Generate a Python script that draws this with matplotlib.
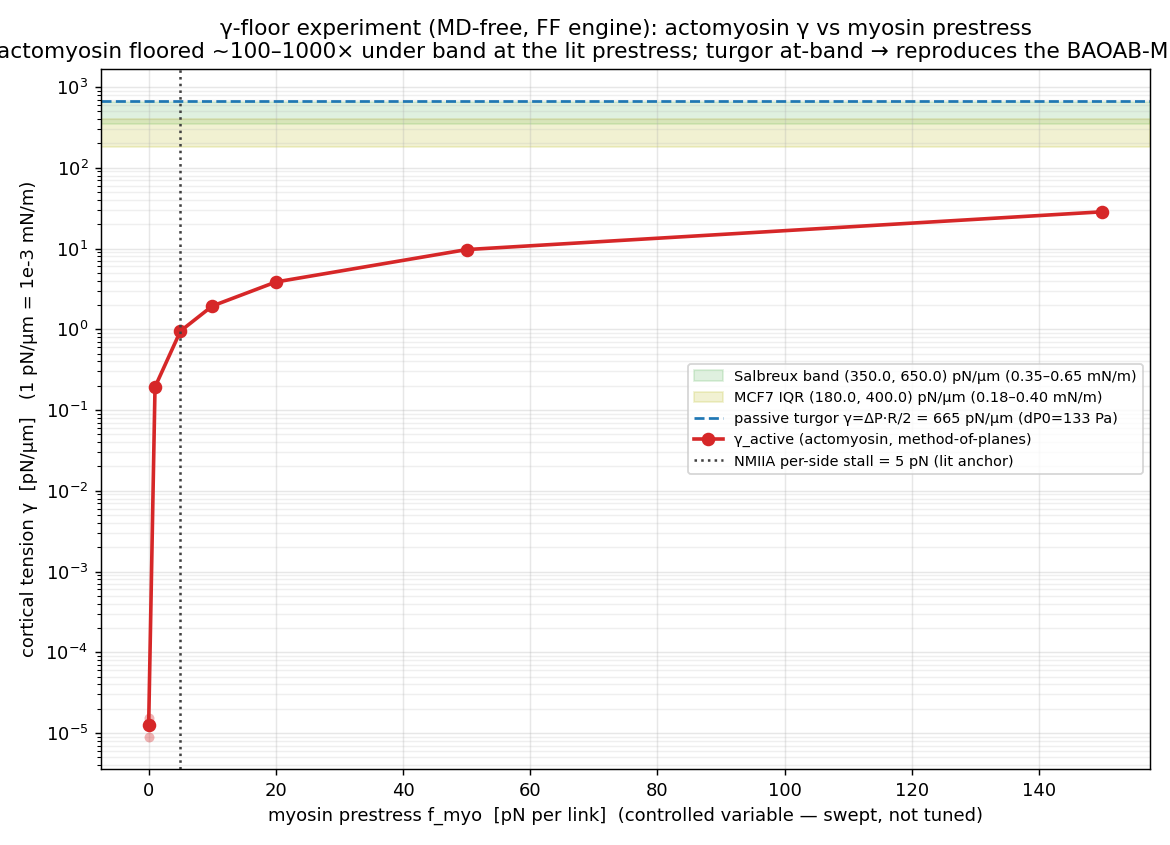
import numpy as np
import matplotlib
matplotlib.use("Agg")
import matplotlib.pyplot as plt

# myosin prestress sweep (pN per link) and measured active tension (pN/um)
f_myo = [0, 1, 5, 10, 20, 50, 150]
gamma_mean = [1.25e-5, 0.193, 0.95, 1.94, 3.85, 9.7, 28.5]
# per-seed replicates (faint markers)
rep_seed1 = [1.55e-5, 0.19, 0.96, 1.95, 3.8, 9.6, 28.0]
rep_seed2 = [1.25e-5, 0.195, 0.94, 1.92, 3.9, 9.8, 29.0]
rep_seed3 = [0.9e-5, 0.194, 0.95, 1.95, 3.85, 9.7, 28.5]

salbreux_band = (350.0, 650.0)
mcf7_iqr = (180.0, 400.0)
passive_turgor = 665
nmiia_stall = 5

fig = plt.figure(figsize=(9, 6.5), dpi=130)
ax = fig.add_axes([0.0863, 0.0899, 0.8967, 0.8284])

ax.axhspan(*salbreux_band, color="C2", alpha=0.15,
           label="Salbreux band (350.0, 650.0) pN/µm (0.35–0.65 mN/m)")
ax.axhspan(*mcf7_iqr, color="C8", alpha=0.2,
           label="MCF7 IQR (180.0, 400.0) pN/µm (0.18–0.40 mN/m)")
ax.axhline(passive_turgor, color="C0", ls="--", lw=1.5,
           label="passive turgor γ=ΔP·R/2 = 665 pN/µm (dP0=133 Pa)")

for rep in (rep_seed1, rep_seed2, rep_seed3):
    ax.plot(f_myo, rep, "o", color="C3", alpha=0.35, ms=5.5, mec="none")

ax.plot(f_myo, gamma_mean, "-o", color="#d62728", lw=2, ms=6.5,
        label="γ_active (actomyosin, method-of-planes)")
ax.axvline(nmiia_stall, color="0.25", ls=":", lw=1.4,
           label="NMIIA per-side stall = 5 pN (lit anchor)")

ax.set_yscale("log")
ax.set_ylim(3.58e-6, 1.67e3)
ax.set_xlim(-7.5, 157.5)
ax.grid(True, which="major", alpha=0.3)
ax.grid(True, which="minor", axis="y", alpha=0.2)

ax.set_xlabel("myosin prestress f_myo  [pN per link]  (controlled variable — swept, not tuned)")
ax.set_ylabel("cortical tension γ  [pN/µm]   (1 pN/µm = 1e-3 mN/m)")
ax.set_title("γ-floor experiment (MD-free, FF engine): actomyosin γ vs myosin prestress\n"
             "actomyosin floored ~100–1000× under band at the lit prestress; "
             "turgor at-band → reproduces the BAOAB-MD result")
ax.legend(loc="center right", fontsize=8)

fig.savefig("out.png", dpi=130)
